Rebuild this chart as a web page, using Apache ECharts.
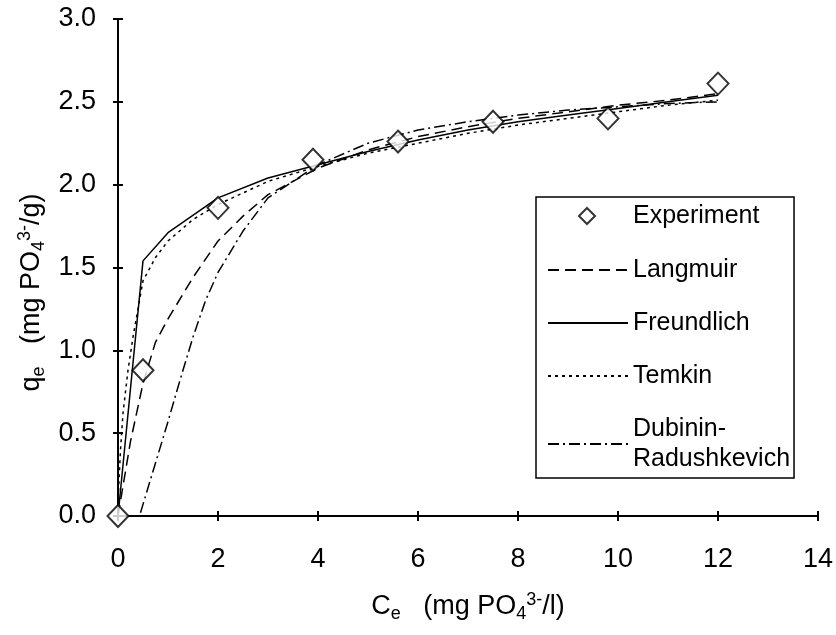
<!DOCTYPE html>
<html>
<head>
<meta charset="utf-8">
<script src="https://cdn.jsdelivr.net/npm/echarts@6/dist/echarts.min.js"></script>
<style>
  html, body { margin: 0; padding: 0; background: #fff; }
  #chart { width: 836px; height: 635px; }
</style>
</head>
<body>
<div id="chart"></div>
<script>
// experiment points
const expX = [0, 0.5, 2.0, 3.9, 5.6, 7.5, 9.8, 12.0];
const expY = [0, 0.88, 1.86, 2.15, 2.26, 2.38, 2.40, 2.61];

// Langmuir fit (dashed)
const langX = [0, 0.25, 0.5, 0.75, 1, 1.5, 2, 2.5, 3, 4, 5, 6, 7, 8, 9, 10, 11, 12];
const langY = [0, 0.45, 0.80, 1.05, 1.19, 1.44, 1.66, 1.81, 1.94, 2.10, 2.21, 2.29, 2.35, 2.40, 2.44, 2.48, 2.51, 2.55];

// Freundlich fit (solid)
const freuX = [0, 0.5, 1, 2, 3, 4, 5, 6, 7, 8, 9, 10, 11, 12];
const freuY = [0, 1.54, 1.71, 1.92, 2.04, 2.12, 2.20, 2.27, 2.33, 2.38, 2.42, 2.46, 2.50, 2.54];

// Temkin fit (dotted)
const temkX = [0.01, 0.05, 0.1, 0.2, 0.3, 0.4, 0.5, 0.75, 1, 1.5, 2, 3, 4, 5, 6, 7, 8, 9, 10, 11, 12];
const temkY = [0.15, 0.40, 0.62, 0.88, 1.08, 1.25, 1.42, 1.56, 1.66, 1.79, 1.88, 2.02, 2.11, 2.19, 2.25, 2.31, 2.36, 2.40, 2.44, 2.48, 2.51];

// Dubinin-Radushkevich fit (dash-dot)
const drX = [0.45, 0.75, 1, 1.25, 1.5, 1.75, 2, 2.5, 3, 4, 5, 6, 7, 8, 9, 10, 11, 12];
const drY = [0.02, 0.32, 0.57, 0.83, 1.08, 1.30, 1.47, 1.72, 1.92, 2.12, 2.25, 2.33, 2.38, 2.42, 2.45, 2.47, 2.49, 2.50];

function pairs(xs, ys) {
  return xs.map((x, i) => [x, ys[i]]);
}

const FONT = "Liberation Sans";
const chart = echarts.init(document.getElementById("chart"));

const lineBase = {
  type: "line",
  symbol: "none",
  smooth: false,
  silent: true,
  itemStyle: { color: "#000" },
};

// rich styles for sub/superscripts in axis titles
const titleRich = {
  pad: { width: 50 },
  n: { fontSize: 27, fontFamily: FONT, color: "#000", lineHeight: 32, verticalAlign: "middle" },
  sub: { fontSize: 18, fontFamily: FONT, color: "#000", lineHeight: 12, verticalAlign: "bottom" },
  sup: { fontSize: 18, fontFamily: FONT, color: "#000", lineHeight: 12, verticalAlign: "top" },
};

const tickStyle = { color: "#000", width: 2 };

const option = {
  animation: false,
  backgroundColor: "#fff",
  grid: { left: 118, right: 18, top: 19, bottom: 119, outerBoundsMode: "none" },
  xAxis: [
    {
      type: "value",
      min: 0,
      max: 14,
      interval: 2,
      splitLine: { show: false },
      axisLine: { lineStyle: { color: "#000", width: 2 } },
      axisTick: { show: true, length: 5, lineStyle: tickStyle },
      axisLabel: { color: "#000", fontSize: 27, fontFamily: FONT, margin: 30 },
      name: "{n|C}{sub|e}{n|   (mg PO}{sub|4}{sup|3-}{n|/l)}",
      nameLocation: "middle",
      nameGap: 75,
      nameTextStyle: { rich: titleRich },
    },
    {
      type: "value",
      min: 0,
      max: 14,
      interval: 2,
      position: "bottom",
      splitLine: { show: false },
      axisLine: { show: false },
      axisTick: { show: true, inside: true, length: 5, lineStyle: tickStyle },
      axisLabel: { show: false },
    },
  ],
  yAxis: [
    {
      type: "value",
      min: 0,
      max: 3,
      interval: 0.5,
      splitLine: { show: false },
      axisLine: { lineStyle: { color: "#000", width: 2 } },
      axisTick: { show: true, length: 5, lineStyle: tickStyle },
      axisLabel: {
        color: "#000",
        fontSize: 27,
        fontFamily: FONT,
        margin: 22,
        formatter: (v) => v.toFixed(1),
      },
      name: "{n|q}{sub|e}{n|   (mg PO}{sub|4}{sup|3-}{n|/g)}{pad|}",
      nameLocation: "middle",
      nameRotate: 90,
      nameGap: 70,
      nameTextStyle: { rich: titleRich },
    },
    {
      type: "value",
      min: 0,
      max: 3,
      interval: 0.5,
      position: "left",
      splitLine: { show: false },
      axisLine: { show: false },
      axisTick: { show: true, inside: true, length: 5, lineStyle: tickStyle },
      axisLabel: { show: false },
    },
  ],
  legend: [
    {
      // boxed legend for the fitted models, top padding leaves room for Experiment
      orient: "vertical",
      left: 536,
      top: 197,
      padding: [58, 4, 4, 11],
      itemGap: 23,
      itemWidth: 80,
      itemHeight: 16,
      itemStyle: { opacity: 0 },
      borderColor: "#000",
      borderWidth: 1.5,
      borderRadius: 0,
      textStyle: { color: "#000", fontSize: 25, fontFamily: FONT, lineHeight: 30 },
      data: ["Langmuir", "Freundlich", "Temkin", "Dubinin-\nRadushkevich"],
    },
    {
      orient: "vertical",
      left: 578,
      top: 201,
      padding: 0,
      itemWidth: 20,
      itemHeight: 16,
      textStyle: { color: "#000", fontSize: 25, fontFamily: FONT, lineHeight: 30, padding: [0, 0, 0, 31] },
      data: [
        {
          name: "Experiment",
          icon: "path://M0,-1L1,0L0,1L-1,0Z",
          itemStyle: { color: "#fff", borderColor: "#000", borderWidth: 2 },
        },
      ],
    },
  ],
  series: [
    {
      ...lineBase,
      name: "Langmuir",
      data: pairs(langX, langY),
      lineStyle: { color: "#000", width: 1.5, type: [11, 6] },
    },
    {
      ...lineBase,
      name: "Freundlich",
      data: pairs(freuX, freuY),
      lineStyle: { color: "#000", width: 1.5, type: "solid" },
    },
    {
      ...lineBase,
      name: "Temkin",
      data: pairs(temkX, temkY),
      lineStyle: { color: "#000", width: 1.5, type: [3, 4] },
    },
    {
      ...lineBase,
      name: "Dubinin-\nRadushkevich",
      data: pairs(drX, drY),
      lineStyle: { color: "#000", width: 1.5, type: [11, 4, 2, 4] },
    },
    {
      name: "Experiment",
      type: "scatter",
      data: pairs(expX, expY),
      symbol: "diamond",
      symbolSize: [21, 22],
      z: 10,
      itemStyle: { color: "#fff", borderColor: "#000", borderWidth: 2 },
      silent: true,
    },
  ],
};

chart.setOption(option);
</script>
</body>
</html>
